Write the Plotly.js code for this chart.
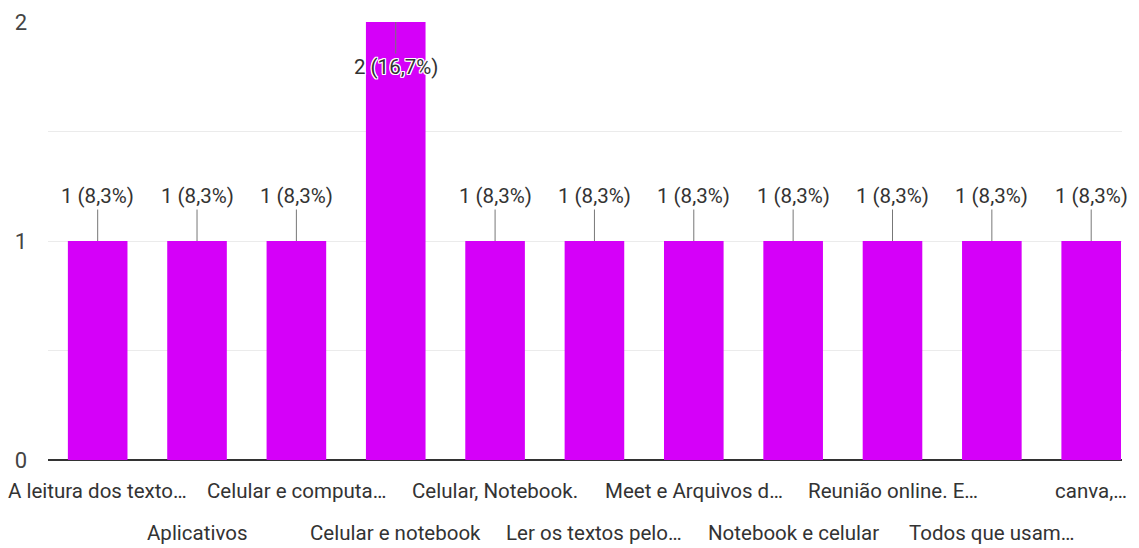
<!DOCTYPE html>
<html>
<head>
<meta charset="utf-8">
<script src="https://cdn.plot.ly/plotly-3.0.1.min.js"></script>
<style>html,body{margin:0;padding:0;background:#fff;}#chart{width:1139px;height:548px;}</style>
</head>
<body>
<div id="chart"></div>
<script>
const categories = [
  "A leitura dos texto…",
  "Aplicativos",
  "Celular e computa…",
  "Celular e notebook",
  "Celular, Notebook.",
  "Ler os textos pelo…",
  "Meet e Arquivos d…",
  "Notebook e celular",
  "Reunião online. E…",
  "Todos que usam…",
  "canva,…"
];
const counts = [1, 1, 1, 2, 1, 1, 1, 1, 1, 1, 1];
const total = 12;
const yTickVals = [0, 0.5, 1, 1.5, 2];
const yTickText = ["0", "", "1", "", "2"];

const barColor = "#d500f9";
const font = "Roboto, Arial, sans-serif";

function pctLabel(v) {
  const p = (v / total * 100).toFixed(1).replace(".", ",");
  return v + " (" + p + "%)";
}

const annotations = [];
const maxVal = Math.max(...counts);
counts.forEach((v, i) => {
  const inside = v === maxVal;
  annotations.push({
    x: categories[i], y: v, xref: "x", yref: "y",
    text: pctLabel(v),
    showarrow: true, arrowhead: 0, arrowwidth: 1, arrowcolor: "#777",
    ax: 0, ay: inside ? 45 : -45, standoff: 0,
    font: {family: font, size: 20.5, color: "#333",
           shadow: inside ? "1px 1px 0 #fff, -1px -1px 0 #fff, 1px -1px 0 #fff, -1px 1px 0 #fff, 0 1px 0 #fff, 0 -1px 0 #fff, 1px 0 0 #fff, -1px 0 0 #fff" : "none"}
  });
  annotations.push({
    x: categories[i], y: 0, xref: "x", yref: "paper",
    text: categories[i], showarrow: false,
    yanchor: "middle", yshift: i % 2 === 0 ? -31 : -73,
    font: {family: font, size: 20.5, color: "#333"}
  });
});

const data = [{
  type: "bar",
  x: categories,
  y: counts,
  marker: {color: barColor},
  hoverinfo: "none"
}];

const layout = {
  width: 1139, height: 548,
  margin: {l: 48, r: 17, t: 22, b: 88},
  paper_bgcolor: "#fff", plot_bgcolor: "#fff",
  bargap: 0.4,
  showlegend: false,
  xaxis: {
    type: "category",
    range: [-0.5, 10.31],
    showticklabels: false, showgrid: false, ticks: "",
    zeroline: false, showline: false, fixedrange: true
  },
  yaxis: {
    range: [0, 2],
    tickvals: yTickVals, ticktext: yTickText,
    showgrid: true, gridcolor: "#ebebeb", gridwidth: 1,
    zeroline: true, zerolinecolor: "#333", zerolinewidth: 2,
    tickfont: {family: font, size: 22, color: "#444"},
    ticks: "", ticklabelstandoff: 20, fixedrange: true
  },
  annotations: annotations
};

Plotly.newPlot("chart", data, layout, {displayModeBar: false, staticPlot: true});
</script>
</body>
</html>
